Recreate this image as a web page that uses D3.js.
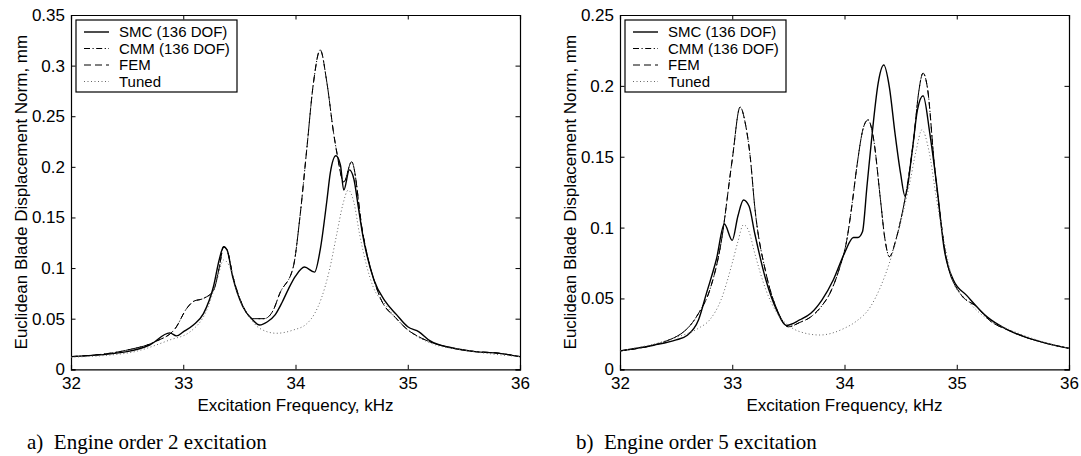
<!DOCTYPE html>
<html>
<head>
<meta charset="utf-8">
<script src="https://cdn.jsdelivr.net/npm/d3@7"></script>
<style>
  body { margin: 0; background: #fff; }
  svg text { font-family: "Liberation Sans", Arial, Helvetica, sans-serif; fill: #000; }
  .caption { font-family: "Liberation Serif", "Times New Roman", serif !important; }
</style>
</head>
<body>
<div id="chart"></div>
<script>
/*********************************
   DATA
 *********************************/

// Shared Tick Labels
let xTicks = [32, 33, 34, 35, 36];
let yTicksEO2 = [0, 0.05, 0.1, 0.15, 0.2, 0.25, 0.3, 0.35];
let yTicksEO5 = [0, 0.05, 0.1, 0.15, 0.2, 0.25];
let seriesNames = ["SMC (136 DOF)", "CMM (136 DOF)", "FEM", "Tuned"];

// Engine Order 2 - SMC
let eo2SmcFreq = [32, 32.5, 32.7, 32.88, 32.94, 33.0, 33.09, 33.18, 33.27, 33.32, 33.36, 33.39, 33.44, 33.53, 33.62, 33.68, 33.75, 33.82, 33.88, 33.94, 34.0, 34.08, 34.17, 34.22, 34.28, 34.31, 34.36, 34.4, 34.43, 34.48, 34.52, 34.56, 34.6, 34.7, 34.8, 34.9, 35.0, 35.1, 35.2, 35.4, 35.6, 35.8, 36];
let eo2SmcVal = [0.0125, 0.0175, 0.024, 0.036, 0.033, 0.037, 0.0438, 0.055, 0.082, 0.108, 0.121, 0.118, 0.0915, 0.062, 0.0487, 0.0438, 0.047, 0.054, 0.066, 0.08, 0.092, 0.101, 0.096, 0.118, 0.167, 0.194, 0.211, 0.202, 0.177, 0.197, 0.188, 0.16, 0.132, 0.088, 0.067, 0.054, 0.042, 0.037, 0.028, 0.021, 0.0175, 0.016, 0.0125];

// Engine Order 2 - CMM / FEM
let eo2CmmFreq = [32, 32.5, 32.75, 32.93, 33.03, 33.09, 33.18, 33.27, 33.32, 33.36, 33.39, 33.44, 33.53, 33.62, 33.72, 33.8, 33.86, 33.98, 34.04, 34.1, 34.16, 34.22, 34.28, 34.34, 34.37, 34.43, 34.5, 34.6, 34.75, 34.9, 35.0, 35.1, 35.2, 35.4, 35.6, 35.8, 36];
let eo2CmmVal = [0.0125, 0.019, 0.0273, 0.0405, 0.06, 0.067, 0.07, 0.078, 0.1, 0.121, 0.118, 0.093, 0.063, 0.05, 0.05, 0.058, 0.075, 0.101, 0.151, 0.217, 0.283, 0.3155, 0.283, 0.233, 0.213, 0.185, 0.205, 0.134, 0.072, 0.05, 0.039, 0.032, 0.027, 0.021, 0.0175, 0.016, 0.0125];

// Engine Order 2 - Tuned
let eo2TunedFreq = [32, 32.5, 32.88, 33.06, 33.21, 33.3, 33.36, 33.42, 33.5, 33.6, 33.68, 33.83, 33.98, 34.1, 34.17, 34.23, 34.3, 34.37, 34.42, 34.47, 34.52, 34.57, 34.69, 34.8, 35.0, 35.2, 35.5, 36];
let eo2TunedVal = [0.012, 0.016, 0.029, 0.037, 0.0586, 0.088, 0.108, 0.1, 0.07, 0.05, 0.0405, 0.0356, 0.0388, 0.045, 0.055, 0.07, 0.097, 0.135, 0.162, 0.177, 0.165, 0.134, 0.082, 0.064, 0.039, 0.026, 0.019, 0.0125];

// Engine Order 5 - SMC
let eo5SmcFreq = [32, 32.3, 32.5, 32.6, 32.7, 32.77, 32.86, 32.93, 33.0, 33.05, 33.1, 33.15, 33.2, 33.3, 33.4, 33.48, 33.6, 33.7, 33.8, 33.9, 34.0, 34.08, 34.12, 34.16, 34.2, 34.25, 34.3, 34.35, 34.4, 34.45, 34.5, 34.54, 34.6, 34.65, 34.7, 34.76, 34.82, 34.89, 34.97, 35.09, 35.27, 35.45, 35.6, 35.8, 36];
let eo5SmcVal = [0.013, 0.017, 0.0207, 0.024, 0.035, 0.0536, 0.078, 0.1025, 0.091, 0.108, 0.1195, 0.115, 0.096, 0.063, 0.041, 0.031, 0.0348, 0.0395, 0.049, 0.063, 0.082, 0.093, 0.093, 0.097, 0.129, 0.169, 0.202, 0.2147, 0.199, 0.1665, 0.138, 0.122, 0.152, 0.183, 0.193, 0.1665, 0.131, 0.084, 0.063, 0.052, 0.037, 0.028, 0.023, 0.0183, 0.0148];

// Engine Order 5 - CMM / FEM
let eo5CmmFreq = [32, 32.5, 32.7, 32.8, 32.9, 33.0, 33.07, 33.12, 33.16, 33.2, 33.3, 33.4, 33.5, 33.6, 33.7, 33.8, 33.87, 33.95, 34.02, 34.07, 34.11, 34.17, 34.21, 34.26, 34.32, 34.36, 34.4, 34.46, 34.5, 34.56, 34.62, 34.66, 34.7, 34.74, 34.8, 34.85, 34.91, 35.03, 35.18, 35.3, 35.45, 35.6, 35.8, 36];
let eo5CmmVal = [0.013, 0.023, 0.0395, 0.056, 0.089, 0.148, 0.185, 0.172, 0.15, 0.115, 0.068, 0.042, 0.03, 0.033, 0.037, 0.045, 0.0536, 0.07, 0.091, 0.118, 0.143, 0.171, 0.176, 0.162, 0.12, 0.092, 0.0795, 0.092, 0.105, 0.13, 0.165, 0.195, 0.209, 0.198, 0.145, 0.11, 0.077, 0.0536, 0.044, 0.034, 0.028, 0.023, 0.0183, 0.0148];

// Engine Order 5 - Tuned
let eo5TunedFreq = [32, 32.5, 32.7, 32.8, 32.9, 33.0, 33.05, 33.1, 33.15, 33.2, 33.3, 33.4, 33.5, 33.6, 33.78, 34.0, 34.1, 34.23, 34.32, 34.4, 34.46, 34.52, 34.58, 34.64, 34.69, 34.75, 34.82, 34.9, 34.97, 35.09, 35.2, 35.35, 35.5, 35.7, 36];
let eo5TunedVal = [0.013, 0.0225, 0.029, 0.035, 0.049, 0.075, 0.09, 0.102, 0.097, 0.082, 0.056, 0.0395, 0.031, 0.0266, 0.0242, 0.029, 0.0336, 0.044, 0.058, 0.075, 0.091, 0.11, 0.131, 0.155, 0.169, 0.155, 0.12, 0.085, 0.061, 0.049, 0.04, 0.032, 0.027, 0.021, 0.0148];

/*********************************
   CHART SETUP
 *********************************/

let W = 1081, H = 456;
let svg = d3.select("#chart").append("svg").attr("width", W).attr("height", H);

// Line Styles For Each Series
let styles = [
  { dash: null, width: 1.4, color: "#000" },
  { dash: "6,2.5,1.2,2.5", width: 1, color: "#000" },
  { dash: "7,4", width: 1, color: "#000" },
  { dash: "1,2.5", width: 1, color: "#666" }
];

// Draw One Panel
function drawPanel(left, yMax, yTicks, series, caption) {
  let top = 15, bottom = 369.3, right = left + 449;
  let xScale = d3.scaleLinear().domain([32, 36]).range([left, right]);
  let yScale = d3.scaleLinear().domain([0, yMax]).range([bottom, top]);
  let fmt = (d) => String(+d.toFixed(2));
  let g = svg.append("g");

  // Axes With Inward Ticks (Box Style)
  g.append("g").attr("transform", "translate(0," + bottom + ")")
    .call(d3.axisBottom(xScale).tickValues(xTicks).tickSize(-4.5).tickPadding(8).tickFormat(fmt));
  g.append("g").attr("transform", "translate(0," + top + ")")
    .call(d3.axisTop(xScale).tickValues(xTicks).tickSize(-4.5).tickFormat(""));
  g.append("g").attr("transform", "translate(" + left + ",0)")
    .call(d3.axisLeft(yScale).tickValues(yTicks).tickSize(-4.5).tickPadding(6).tickFormat(fmt));
  g.append("g").attr("transform", "translate(" + right + ",0)")
    .call(d3.axisRight(yScale).tickValues(yTicks).tickSize(-4.5).tickFormat(""));
  g.selectAll(".domain").attr("stroke", "#000").attr("stroke-width", 1.2);
  g.selectAll(".tick line").attr("stroke", "#000");
  g.selectAll(".tick text").style("font-size", "17px").attr("fill", "#000");

  // Series Lines
  let line = d3.line().x((d) => xScale(d[0])).y((d) => yScale(d[1])).curve(d3.curveMonotoneX);
  series.forEach((s, i) => {
    let pts = s.freq.map((f, k) => [f, s.val[k]]);
    g.append("path").datum(pts).attr("d", line).attr("fill", "none")
      .attr("stroke", styles[i].color).attr("stroke-width", styles[i].width)
      .attr("stroke-dasharray", styles[i].dash);
  });

  // Axis Labels
  g.append("text").text("Excitation Frequency, kHz").attr("x", (left + right) / 2).attr("y", 411)
    .attr("text-anchor", "middle").style("font-size", "17px");
  g.append("text").text("Euclidean Blade Displacement Norm, mm")
    .attr("transform", "translate(" + (left - 44) + "," + ((top + bottom) / 2) + ") rotate(-90)")
    .attr("text-anchor", "middle").style("font-size", "17px");

  // Legend
  let lx = left + 5, ly = 20;
  g.append("rect").attr("x", lx).attr("y", ly).attr("width", 161).attr("height", 72)
    .attr("fill", "#fff").attr("stroke", "#000").attr("stroke-width", 1.2);
  seriesNames.forEach((name, i) => {
    let yy = ly + 12 + i * 16.5;
    g.append("line").attr("x1", lx + 8).attr("x2", lx + 33).attr("y1", yy).attr("y2", yy)
      .attr("stroke", styles[i].color).attr("stroke-width", styles[i].width)
      .attr("stroke-dasharray", styles[i].dash);
    g.append("text").text(name).attr("x", lx + 43).attr("y", yy + 5).style("font-size", "15px");
  });

  // Caption
  g.append("text").text(caption).attr("class", "caption").attr("x", left - 44).attr("y", 449)
    .style("font-size", "21px").attr("xml:space", "preserve");
}

drawPanel(71, 0.35, yTicksEO2, [
  { freq: eo2SmcFreq, val: eo2SmcVal },
  { freq: eo2CmmFreq, val: eo2CmmVal },
  { freq: eo2CmmFreq, val: eo2CmmVal },
  { freq: eo2TunedFreq, val: eo2TunedVal }
], "a)  Engine order 2 excitation");

drawPanel(620, 0.25, yTicksEO5, [
  { freq: eo5SmcFreq, val: eo5SmcVal },
  { freq: eo5CmmFreq, val: eo5CmmVal },
  { freq: eo5CmmFreq, val: eo5CmmVal },
  { freq: eo5TunedFreq, val: eo5TunedVal }
], "b)  Engine order 5 excitation");
</script>
</body>
</html>
